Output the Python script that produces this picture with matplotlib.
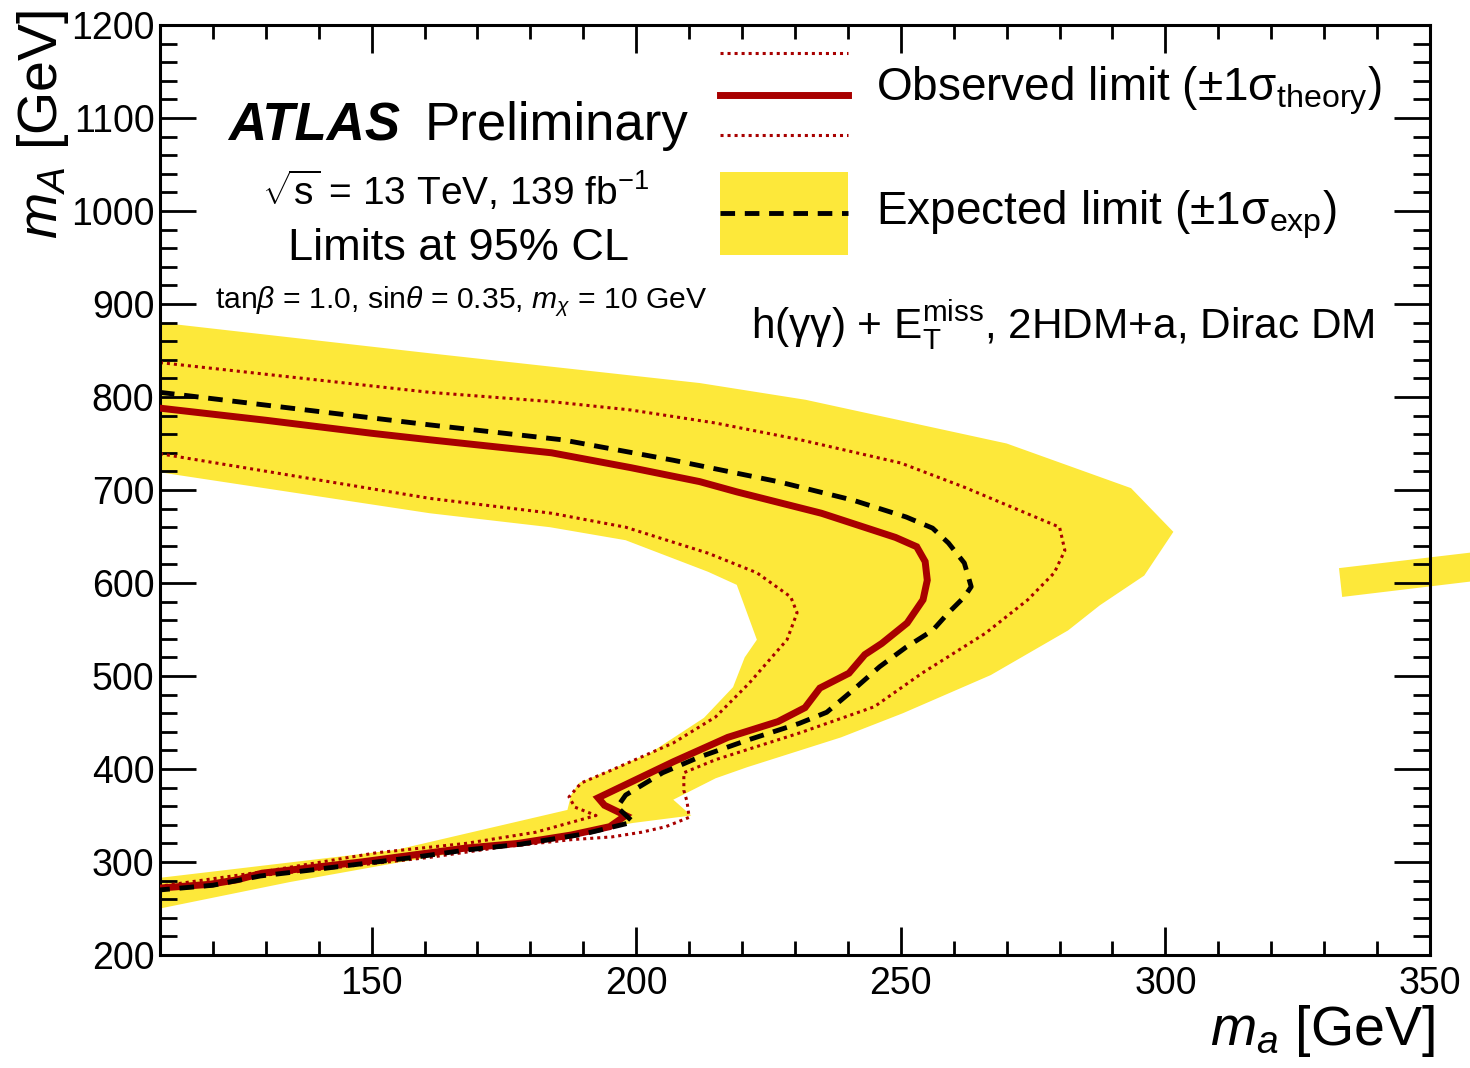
import matplotlib
matplotlib.use("Agg")
import matplotlib.pyplot as plt
from matplotlib.patches import Rectangle
from matplotlib.ticker import MultipleLocator

plt.rcParams['font.family'] = ['Liberation Sans', 'DejaVu Sans']
plt.rcParams['mathtext.fontset'] = 'custom'
plt.rcParams['mathtext.rm'] = 'Liberation Sans'
plt.rcParams['mathtext.it'] = 'Liberation Sans:italic'
plt.rcParams['mathtext.bf'] = 'Liberation Sans:bold'

# observed limit contour (m_a, m_A) in GeV
obs_ma = [110, 130, 150, 161, 184, 199, 212, 219, 235, 249, 253, 254.6, 255, 254.2,
          251.2, 246.4, 243.2, 240.2, 234.7, 231.9, 226.8, 217.3, 207.1, 192.8, 194,
          198, 195, 187.7, 177.7, 167.8, 157.8, 148, 138, 129.3, 124.7, 119.4, 110]
obs_mA = [788, 775, 761, 754, 740, 724, 709, 698, 675, 649, 639, 623, 603, 582,
          557, 535, 523, 503, 487, 466, 451, 434, 408, 369, 361,
          350, 338, 329, 320, 315, 307.5, 300, 293.5, 288, 281, 276, 272]

# expected limit contour
exp_ma = [110, 161, 186, 207, 226.8, 241, 251, 256, 259, 262, 263.3, 262, 259, 256,
          251, 246, 241, 236, 230.8, 221, 212, 205, 198, 196.4, 199.4, 190, 178,
          168, 158, 148, 138, 129, 120, 110]
exp_mA = [805, 770, 754, 732, 709, 689, 671, 659, 643, 621.5, 596, 585, 568, 549,
          531, 510, 485, 461, 449, 431, 413, 396, 372, 359, 343, 330, 319,
          313, 305, 298, 291, 285, 275, 270]

# observed +1 sigma theory (outer) and -1 sigma theory (inner)
theo_hi_ma = [110, 161, 184, 199, 215, 231, 250, 262, 280, 281, 279, 274, 266, 254,
              245, 231, 215, 209, 209, 209.6, 210, 205.6, 201, 195.4, 187.7, 174.5,
              161, 148, 130, 110]
theo_hi_mA = [837, 805, 795, 786, 772, 754, 729, 703, 660, 635, 611, 582, 546, 503,
              467, 439, 410, 396, 377, 365, 348, 338, 332, 327, 324, 316,
              305, 297, 286, 270]
theo_lo_ma = [110, 161, 184, 198, 213.6, 222.8, 229.2, 230.4, 228.5, 221.3, 215, 207,
              195.4, 189.6, 187.3, 188.4, 192.4, 181, 167.8, 151, 130, 110]
theo_lo_mA = [739, 691, 675, 660, 632, 611, 585, 568, 539, 492, 456, 428,
              399, 385, 370, 359, 350, 332, 320, 310, 290, 274]

# expected +-1 sigma band (outer edge, then inner edge)
band_ma = [110, 161, 212, 232, 270, 293.5, 301.5, 296, 287.6, 281.6, 267, 250.4,
           238.7, 221, 215, 207, 210.4, 199.4, 174.5, 154.6, 134.6, 110,
           110, 154.6, 187, 187.7, 189.2, 202.6, 212.8, 218.3, 220.5, 222.8, 219,
           213.6, 198, 183.7, 161, 110]
band_mA = [880, 847, 815, 797, 750, 702, 655, 608, 576, 549, 501, 460,
           434, 402, 390, 367, 350, 342, 318, 299, 278.5, 250,
           283, 313, 356, 372, 385, 417, 455, 488, 520, 539, 598,
           612, 646, 660, 675, 719]
# stray piece of the band at high m_a
stray_ma = [332.8, 370, 370, 333.4]
stray_mA = [616, 641, 610, 585]

red = '#a80000'
yellow = '#fde83a'

fig = plt.figure(figsize=(14.7, 10.68), dpi=100)
ax = fig.add_axes([0.1088, 0.1058, 0.8640, 0.8708])

ax.fill(band_ma, band_mA, color=yellow, lw=0, zorder=1)
ax.fill(stray_ma, stray_mA, color=yellow, lw=0, zorder=1, clip_on=False)
ax.plot(theo_hi_ma, theo_hi_mA, color=red, lw=2.2, ls=(0, (1, 1.3)), zorder=2)
ax.plot(theo_lo_ma, theo_lo_mA, color=red, lw=2.2, ls=(0, (1, 1.3)), zorder=2)
ax.plot(obs_ma, obs_mA, color=red, lw=5, zorder=3, solid_joinstyle='miter')
ax.plot(exp_ma, exp_mA, color='black', lw=3.5, ls=(0, (3, 2)), zorder=4)

ax.set_xlim(110, 350)
ax.set_ylim(200, 1200)
ax.xaxis.set_major_locator(MultipleLocator(50))
ax.xaxis.set_minor_locator(MultipleLocator(10))
ax.yaxis.set_major_locator(MultipleLocator(100))
ax.yaxis.set_minor_locator(MultipleLocator(20))
ax.tick_params(which='both', direction='in', top=True, right=True, width=2, labelsize=27)
ax.tick_params(axis='y', which='major', length=26, pad=4)
ax.tick_params(axis='y', which='minor', length=12.5)
ax.tick_params(axis='x', which='major', length=20, pad=8)
ax.tick_params(axis='x', which='minor', length=10)
for sp in ax.spines.values():
    sp.set_linewidth(2.2)

ax.set_xlabel(r'$m_a$ [GeV]', fontsize=40, loc='right')
ax.xaxis.set_label_coords(1.004, -0.052)
ax.set_ylabel(r'$m_A$ [GeV]', fontsize=40, loc='top')
ax.yaxis.set_label_coords(-0.07, 1.016)

# legend
tr = ax.transAxes
ax.plot([0.441, 0.5417], [0.970, 0.970], transform=tr, clip_on=False, color=red, lw=2.2, ls=(0, (1, 1.3)))
ax.plot([0.441, 0.5417], [0.9247, 0.9247], transform=tr, clip_on=False, color=red, lw=5)
ax.plot([0.441, 0.5417], [0.8817, 0.8817], transform=tr, clip_on=False, color=red, lw=2.2, ls=(0, (1, 1.3)))
ax.add_patch(Rectangle((0.441, 0.7527), 0.1007, 0.0892, transform=tr, color=yellow, lw=0))
ax.plot([0.441, 0.5417], [0.7978, 0.7978], transform=tr, color='black', lw=3.5, ls=(0, (3, 2)))
ax.text(0.5638, 0.919, r'Observed limit (±1σ$_{\mathrm{theory}}$)', transform=tr, fontsize=33, va='baseline')
ax.text(0.5638, 0.785, r'Expected limit (±1σ$_{\mathrm{exp}}$)', transform=tr, fontsize=33, va='baseline')
ax.text(0.9567, 0.6634, r'h(γγ) + E$_{\mathrm{T}}^{\mathrm{miss}}$, 2HDM+a, Dirac DM', transform=tr,
        fontsize=30.5, ha='right', va='baseline')

# ATLAS label
ax.text(0.0535, 0.876, 'ATLAS', transform=tr, fontsize=38, fontweight='bold', fontstyle='italic', va='baseline')
ax.text(0.2087, 0.876, 'Preliminary', transform=tr, fontsize=38, va='baseline')
ax.text(0.233, 0.8065, r'$\sqrt{\mathrm{s}}$ = 13 TeV, 139 fb$^{-1}$', transform=tr, fontsize=28,
        ha='center', va='baseline')
ax.text(0.235, 0.747, 'Limits at 95% CL', transform=tr, fontsize=32.5, ha='center', va='baseline')
ax.text(0.237, 0.6957, r'tan$\beta$ = 1.0, sin$\theta$ = 0.35, $m_{\chi}$ = 10 GeV', transform=tr,
        fontsize=21.7, ha='center', va='baseline')

fig.savefig('out.png', dpi=100)
